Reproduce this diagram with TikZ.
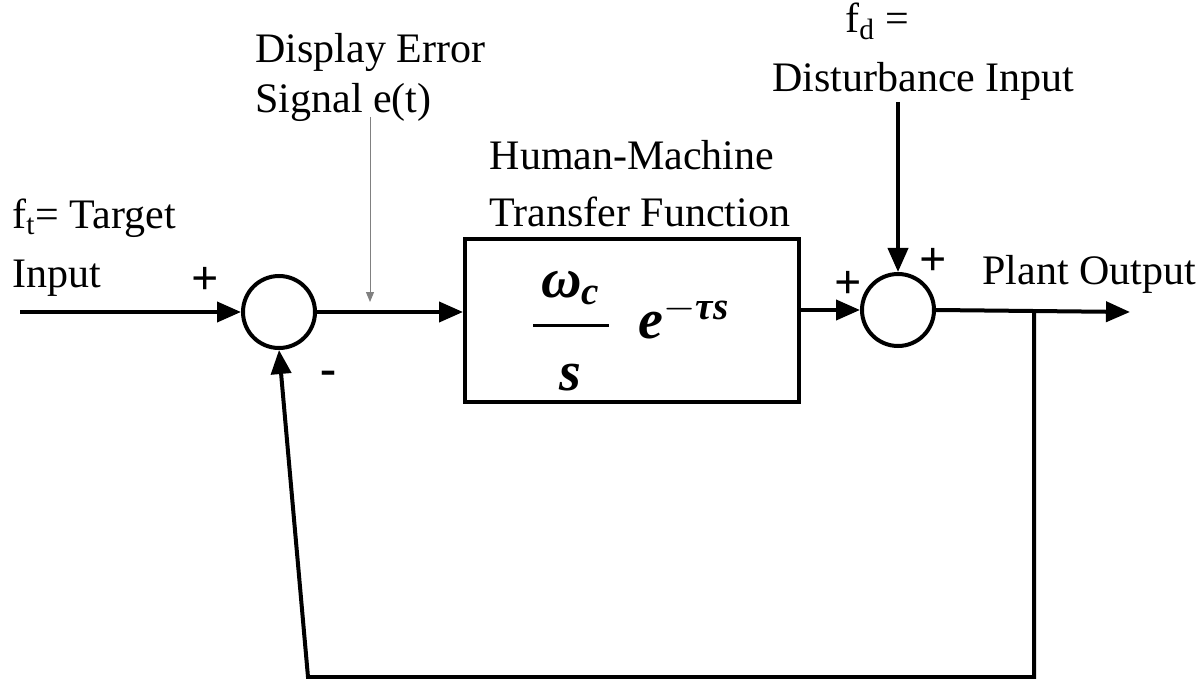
\documentclass[tikz,border=0pt]{standalone}
\usepackage{amsmath}
\usepackage{fontspec}
\setmainfont{Liberation Serif}
\usetikzlibrary{arrows.meta}

\begin{document}
\begin{tikzpicture}[x=0.5pt,y=-0.5pt,
		font=\fontsize{21}{25}\selectfont,
		sig/.style={line width=2pt,-{Triangle[length=12pt,width=10pt]}},
		note/.style={line width=0.5pt,gray,-{Triangle[length=5pt,width=4pt]}},
		sumpt/.style={circle,draw,line width=2pt,minimum size=36pt,inner sep=0pt},
		txt/.style={anchor=base west,inner sep=0pt},
		sgn/.style={inner sep=0pt,font=\fontsize{24}{28}\selectfont\bfseries}]
				\useasboundingbox (0,0) rectangle (1204,679);
				%%%nodes
				%summing points
				\node[sumpt] at (279,312) (S1){};
				\node[sumpt] at (898,310) (S2){};
				%block
				\node[draw,line width=2pt,minimum width=167pt,minimum height=81.5pt] at (632,320.5) (HM){};
				\node[anchor=base,inner sep=0pt] at (630,338) (tf)
					{\fontsize{28}{34}\selectfont$\genfrac{}{}{1.5pt}{0}{\,\textbf{\textit{ω}}_{\textbf{\textit{c}}}\,\rule[-9pt]{0pt}{9pt}}{\rule{0pt}{27pt}\textbf{\textit{s}}}\;\;\textbf{\textit{e}}^{-\textbf{\textit{τs}}}$};
				%labels
				\node[txt] at (12,228) (ft){f\textsubscript{t}= Target};
				\node[txt] at (12,287) (ftin){Input};
				\node[txt] at (255,63) (e1){Display Error};
				\node[txt] at (255,113) (e2){Signal e(t)};
				\node[anchor=base,inner sep=0pt] at (632,170) (hm1){Human-Machine};
				\node[anchor=base,inner sep=0pt] at (640,227) (hm2){Transfer Function};
				\node[txt] at (845,33) (fd){f\textsubscript{d} =};
				\node[txt] at (772,92) (fdin){Disturbance Input};
				\node[txt] at (982,285) (po){Plant Output};
				%signs
				\node[sgn] at (205,281) (p1){+};
				\node[sgn] at (328,378) (m1){-};
				\node[sgn] at (848,285) (p2){+};
				\node[sgn] at (933,262) (p3){+};
				%free ends
				\coordinate (in) at (20,312);
				\coordinate (dist) at (898,102);
				\coordinate (out) at (1130,312);
				\coordinate (br) at (1034,312);
				\coordinate (fb1) at (1034,677);
				\coordinate (fb2) at (308,677);
				\coordinate (et1) at (370,117);
				\coordinate (et2) at (370,302);
				%%%links
				\draw[sig] (in) -- (S1);
				\draw[sig] (S1.east) -- (S1.east -| HM.west);
				\draw[sig] (S2.west -| HM.east) -- (S2.west);
				\draw[sig] (dist) -- (S2.north);
				\draw[sig] (S2.east) -- (out);
				%feedback
				\draw[sig] (br) -- (fb1) -- (fb2) -- (S1.south);
				%error signal
				\draw[note] (et1) -- (et2);
			\end{tikzpicture}
\end{document}
